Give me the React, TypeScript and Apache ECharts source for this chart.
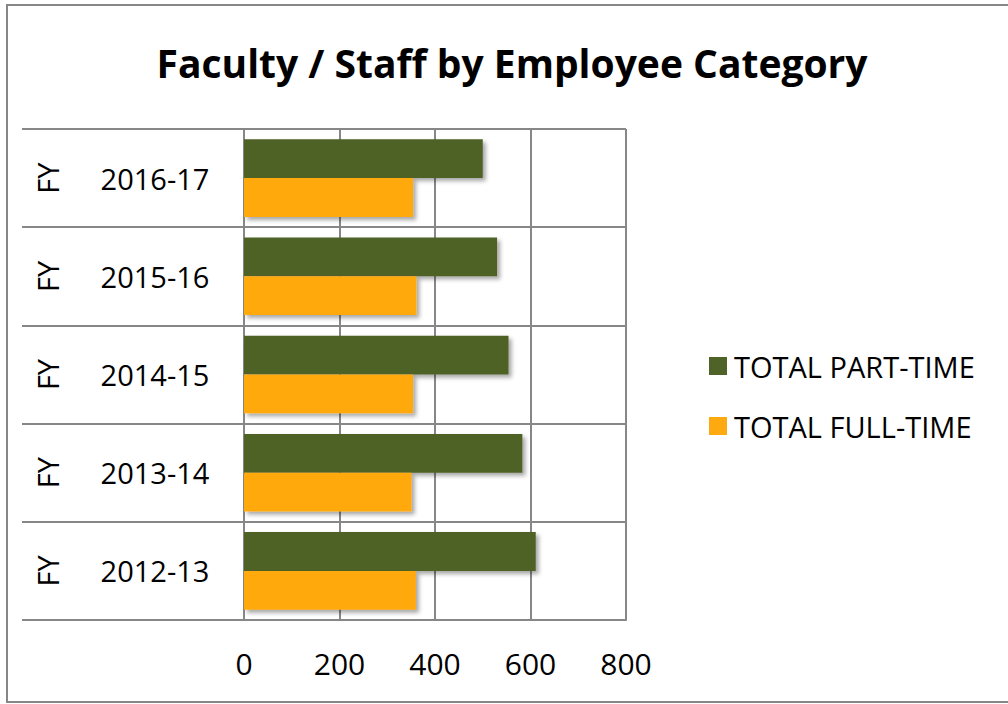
import React, { useEffect, useRef } from "react";
import * as echarts from "echarts";

const categories = ["2016-17", "2015-16", "2014-15", "2013-14", "2012-13"];
const categoryPrefix = "FY";
const partTime = [500, 530, 554, 583, 611];
const fullTime = [354, 361, 354, 351, 360];
const xTicks = [0, 200, 400, 600, 800];
const seriesNames = ["TOTAL PART-TIME", "TOTAL FULL-TIME"];
const title = "Faculty / Staff by Employee Category";

const FONT = "'Open Sans', 'Noto Sans', sans-serif";
const GRID = "#878787";

export default function App() {
  const ref = useRef<HTMLDivElement>(null);
  useEffect(() => {
    if (!ref.current) return;
    const chart = echarts.init(ref.current, undefined, { renderer: "svg" });
    const shadow = {
      shadowBlur: 4,
      shadowOffsetX: 3,
      shadowOffsetY: 3,
      shadowColor: "rgba(0,0,0,0.35)",
    };
    chart.setOption({
      animation: false,
      backgroundColor: "#ffffff",
      textStyle: { fontFamily: FONT },
      title: {
        text: title,
        left: 507,
        textAlign: "center",
        top: 38,
        textStyle: { fontFamily: FONT, fontWeight: "bold", fontSize: 39, color: "#000" },
      },
      graphic: [
        {
          type: "rect",
          shape: { x: 7, y: 5, width: 1010, height: 697 },
          style: { fill: "none", stroke: GRID, lineWidth: 2 },
          silent: true,
        },
      ],
      legend: {
        orient: "vertical",
        left: 704,
        top: 346,
        itemWidth: 18,
        itemHeight: 18,
        itemGap: 30,
        icon: "rect",
        data: seriesNames,
        textStyle: {
          fontFamily: FONT,
          fontSize: 29,
          lineHeight: 30,
          color: "#000",
          padding: [0, 0, 0, 2],
        },
      },
      grid: { left: 244, right: 382, top: 129, bottom: 84, containLabel: false },
      xAxis: {
        type: "value",
        min: xTicks[0],
        max: xTicks[xTicks.length - 1],
        interval: xTicks[1] - xTicks[0],
        axisLine: { show: true, lineStyle: { color: GRID, width: 2 } },
        axisTick: { show: false },
        splitLine: { show: true, lineStyle: { color: GRID, width: 2 } },
        axisLabel: { fontFamily: FONT, fontSize: 30, color: "#000", margin: 28 },
      },
      yAxis: [
        {
          type: "category",
          data: categories,
          inverse: true,
          axisLine: { show: true, lineStyle: { color: GRID, width: 2 } },
          axisTick: { show: true, length: 222, lineStyle: { color: GRID, width: 2 } },
          splitLine: { show: true, lineStyle: { color: GRID, width: 2 } },
          axisLabel: {
            fontFamily: FONT,
            fontSize: 29,
            color: "#000",
            margin: 89,
            align: "center",
            verticalAlign: "middle",
          },
        },
        {
          type: "category",
          data: categories,
          inverse: true,
          position: "left",
          axisLine: { show: false },
          axisTick: { show: false },
          splitLine: { show: false },
          axisLabel: {
            formatter: () => categoryPrefix,
            rotate: 90,
            fontFamily: FONT,
            fontSize: 29,
            color: "#000",
            margin: 197,
            align: "center",
            verticalAlign: "middle",
          },
        },
      ],
      series: [
        {
          name: seriesNames[0],
          type: "bar",
          data: partTime,
          barCategoryGap: "21%",
          barGap: "0%",
          itemStyle: { color: "#4F6228", ...shadow },
        },
        {
          name: seriesNames[1],
          type: "bar",
          data: fullTime,
          barCategoryGap: "21%",
          barGap: "0%",
          itemStyle: { color: "#FFA910", ...shadow },
        },
      ],
    });
    return () => chart.dispose();
  }, []);
  return (
    <div
      ref={ref}
      style={{ position: "fixed", left: 0, top: 0, width: 1008, height: 704 }}
    />
  );
}
